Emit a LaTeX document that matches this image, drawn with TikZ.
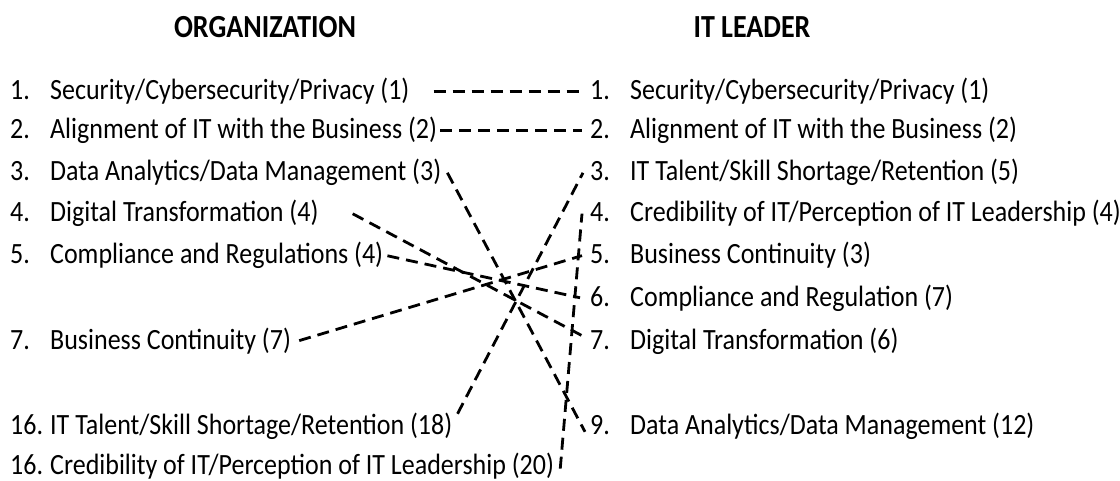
\documentclass[tikz,border=0pt]{standalone}
\usepackage{fontspec}
\setmainfont{Carlito}

\begin{document}
\begin{tikzpicture}[x=1pt,y=-1pt,
  item/.style={anchor=base west,inner sep=0pt,font=\fontsize{26}{31}\selectfont},
  head/.style={anchor=base,inner sep=0pt,font=\fontsize{28}{33}\selectfont\bfseries},
  link/.style={black,line width=2.8pt,dash pattern=on 12pt off 7pt}]
\useasboundingbox (0,0) rectangle (1120,481);
\node[head] (org) at (265,38) {\scalebox{1}[1.15]{ORGANIZATION}};
\node[head] (itl) at (752,38) {\scalebox{1}[1.15]{IT LEADER}};
% organization
\node[item] (o1) at (10,100) {\scalebox{1}[1.13]{\makebox[40pt][l]{1.}Security/Cybersecurity/Privacy (1)}};
\node[item] (o2) at (10,139) {\scalebox{1}[1.13]{\makebox[40pt][l]{2.}Alignment of IT with the Business (2)}};
\node[item] (o3) at (10,181) {\scalebox{1}[1.13]{\makebox[40pt][l]{3.}Data Analytics/Data Management (3)}};
\node[item] (o4) at (10,222) {\scalebox{1}[1.13]{\makebox[40pt][l]{4.}Digital Transformation (4)}};
\node[item] (o5) at (10,264) {\scalebox{1}[1.13]{\makebox[40pt][l]{5.}Compliance and Regulations (4)}};
\node[item] (o7) at (10,349) {\scalebox{1}[1.13]{\makebox[40pt][l]{7.}Business Continuity (7)}};
\node[item] (o16a) at (10,434) {\scalebox{1}[1.13]{\makebox[40pt][l]{16.}IT Talent/Skill Shortage/Retention (18)}};
\node[item] (o16b) at (10,474) {\scalebox{1}[1.13]{\makebox[40pt][l]{16.}Credibility of IT/Perception of IT Leadership (20)}};
% it leader
\node[item] (l1) at (590,100) {\scalebox{1}[1.13]{\makebox[40pt][l]{1.}Security/Cybersecurity/Privacy (1)}};
\node[item] (l2) at (590,139) {\scalebox{1}[1.13]{\makebox[40pt][l]{2.}Alignment of IT with the Business (2)}};
\node[item] (l3) at (590,181) {\scalebox{1}[1.13]{\makebox[40pt][l]{3.}IT Talent/Skill Shortage/Retention (5)}};
\node[item] (l4) at (590,222) {\scalebox{1}[1.13]{\makebox[40pt][l]{4.}Credibility of IT/Perception of IT Leadership (4)}};
\node[item] (l5) at (590,264) {\scalebox{1}[1.13]{\makebox[40pt][l]{5.}Business Continuity (3)}};
\node[item] (l6) at (590,306) {\scalebox{1}[1.13]{\makebox[40pt][l]{6.}Compliance and Regulation (7)}};
\node[item] (l7) at (590,349) {\scalebox{1}[1.13]{\makebox[40pt][l]{7.}Digital Transformation (6)}};
\node[item] (l9) at (590,434) {\scalebox{1}[1.13]{\makebox[40pt][l]{9.}Data Analytics/Data Management (12)}};
% links
\draw[link] ([xshift=24pt]o1.east) -- ([xshift=-8pt]l1.west);
\draw[link] ([xshift=3pt]o2.east) -- ([xshift=-8pt]l2.west);
\draw[link] ([xshift=6pt]o3.east) -- ([xshift=-5pt,yshift=-6pt]l9.west);
\draw[link] ([xshift=34pt]o4.east) -- ([xshift=-4pt,yshift=3pt]l7.west);
\draw[link] ([xshift=4pt]o5.east) -- ([xshift=-10pt]l6.west);
\draw[link] ([xshift=8pt]o7.east) -- ([xshift=-8pt]l5.west);
\draw[link] ([xshift=5pt,yshift=12pt]o16a.east) -- ([xshift=-7pt]l3.west);
\draw[link] ([xshift=6pt,yshift=-3pt]o16b.east) -- ([xshift=-8pt]l4.west);
\end{tikzpicture}
\end{document}
